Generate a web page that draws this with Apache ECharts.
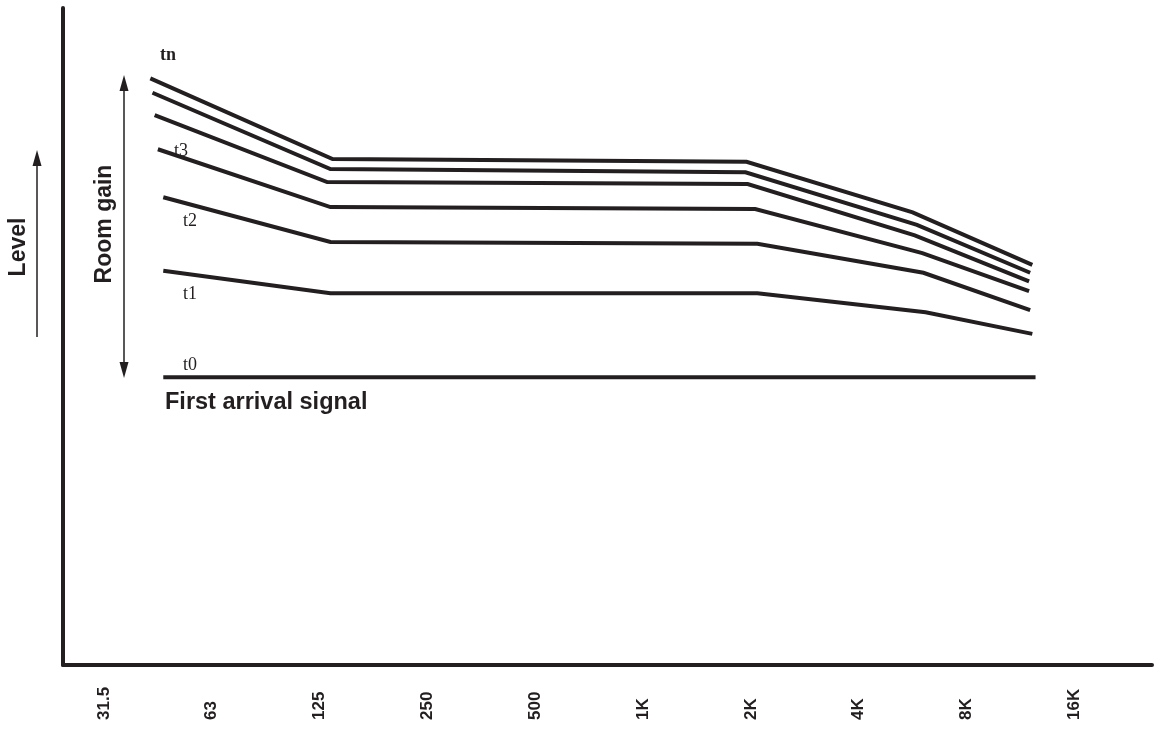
<!DOCTYPE html>
<html>
<head>
<meta charset="utf-8">
<script src="https://cdn.jsdelivr.net/npm/echarts@6/dist/echarts.min.js"></script>
<style>
html,body{margin:0;padding:0;background:#fff;}
#c{width:1156px;height:732px;}
</style>
</head>
<body>
<div id="c"></div>
<script>
// Frequency tick labels (octave bands), tick positions in octave index
const freqLabels = ['31.5','63','125','250','500','1K','2K','4K','8K','16K'];
const freqTicks = [0,1,2,3,4,5,6,7,8,9];

// Level curves (x: octave index from 31.5 Hz, y: relative level)
const tnX = [0.43, 2.12, 5.96, 7.50, 8.61];
const tnY = [89.3, 77.0, 76.6, 68.9, 60.9];
const t5X = [0.45, 2.10, 5.95, 7.54, 8.59];
const t5Y = [87.1, 75.5, 75.0, 67.0, 59.7];
const t4X = [0.47, 2.07, 5.97, 7.52, 8.58];
const t4Y = [83.7, 73.5, 73.2, 65.4, 58.4];
const t3X = [0.50, 2.10, 6.04, 7.59, 8.58];
const t3Y = [78.5, 69.7, 69.4, 62.7, 56.9];
const t2X = [0.55, 2.10, 6.06, 7.60, 8.59];
const t2Y = [71.2, 64.4, 64.1, 59.7, 54.0];
const t1X = [0.55, 2.10, 6.06, 7.62, 8.61];
const t1Y = [60.0, 56.6, 56.6, 53.7, 50.4];
const t0X = [0.55, 8.64];
const t0Y = [43.8, 43.8];

const INK = '#231f20';
const zip = (xs, ys) => xs.map((x, i) => [x, ys[i]]);
const curves = [
  ['tn', tnX, tnY], ['t5', t5X, t5Y], ['t4', t4X, t4Y], ['t3', t3X, t3Y],
  ['t2', t2X, t2Y], ['t1', t1X, t1Y], ['t0', t0X, t0Y]
];

const chart = echarts.init(document.getElementById('c'), null, {renderer: 'canvas'});

const series = curves.map(([name, xs, ys]) => ({
  name: name,
  type: 'line',
  data: zip(xs, ys),
  symbol: 'none',
  silent: true,
  lineStyle: {color: INK, width: 4, cap: 'butt', join: 'miter'}
}));

const serif = '"Liberation Serif", "DejaVu Serif", serif';
const sans = '"Liberation Sans", Arial, sans-serif';

function txt(x, y, text, font, rot, align) {
  return {
    type: 'text', x: x, y: y, rotation: rot || 0, silent: true,
    style: {text: text, font: font, fill: INK, textAlign: align || 'left', textVerticalAlign: 'middle'}
  };
}

const graphic = [
  // annotations
  txt(160, 55, 'tn', 'bold 18px ' + serif),
  txt(174, 151, 't3', '18px ' + serif),
  txt(183, 221, 't2', '18px ' + serif),
  txt(183, 294, 't1', '18px ' + serif),
  txt(183, 365, 't0', '18px ' + serif),
  txt(165, 403, 'First arrival signal', 'bold 23.5px ' + sans),
  txt(105, 224, 'Room gain', 'bold 23px ' + sans, Math.PI / 2, 'center'),
  txt(19, 247, 'Level', 'bold 23px ' + sans, Math.PI / 2, 'center'),
  // Room gain double arrow
  {type: 'line', silent: true, shape: {x1: 124, y1: 88, x2: 124, y2: 365}, style: {stroke: INK, lineWidth: 1.5}},
  {type: 'polygon', silent: true, shape: {points: [[124, 75], [119.5, 91], [128.5, 91]]}, style: {fill: INK}},
  {type: 'polygon', silent: true, shape: {points: [[124, 378], [119.5, 362], [128.5, 362]]}, style: {fill: INK}},
  // Level arrow
  {type: 'line', silent: true, shape: {x1: 37, y1: 162, x2: 37, y2: 337}, style: {stroke: INK, lineWidth: 1.5}},
  {type: 'polygon', silent: true, shape: {points: [[37, 150], [32.5, 166], [41.5, 166]]}, style: {fill: INK}}
];

chart.setOption({
  animation: false,
  backgroundColor: '#ffffff',
  grid: {left: 63, right: 4, top: 8, bottom: 67, containLabel: false},
  xAxis: {
    type: 'value',
    min: -0.38,
    max: 9.72,
    splitLine: {show: false},
    axisTick: {show: false},
    axisLine: {show: true, onZero: false, lineStyle: {color: INK, width: 4}},
    axisLabel: {
      show: true,
      customValues: freqTicks,
      rotate: 90,
      align: 'left',
      verticalAlign: 'middle',
      margin: 55,
      color: INK,
      fontFamily: sans,
      fontWeight: 'bold',
      fontSize: 17,
      formatter: function (v) {
        const i = Math.round(v);
        return freqLabels[i] !== undefined ? freqLabels[i] : '';
      }
    }
  },
  yAxis: {
    type: 'value',
    min: 0,
    max: 100,
    splitLine: {show: false},
    axisTick: {show: false},
    axisLabel: {show: false},
    axisLine: {show: true, onZero: false, lineStyle: {color: INK, width: 4}}
  },
  series: series,
  graphic: graphic
});
</script>
</body>
</html>
